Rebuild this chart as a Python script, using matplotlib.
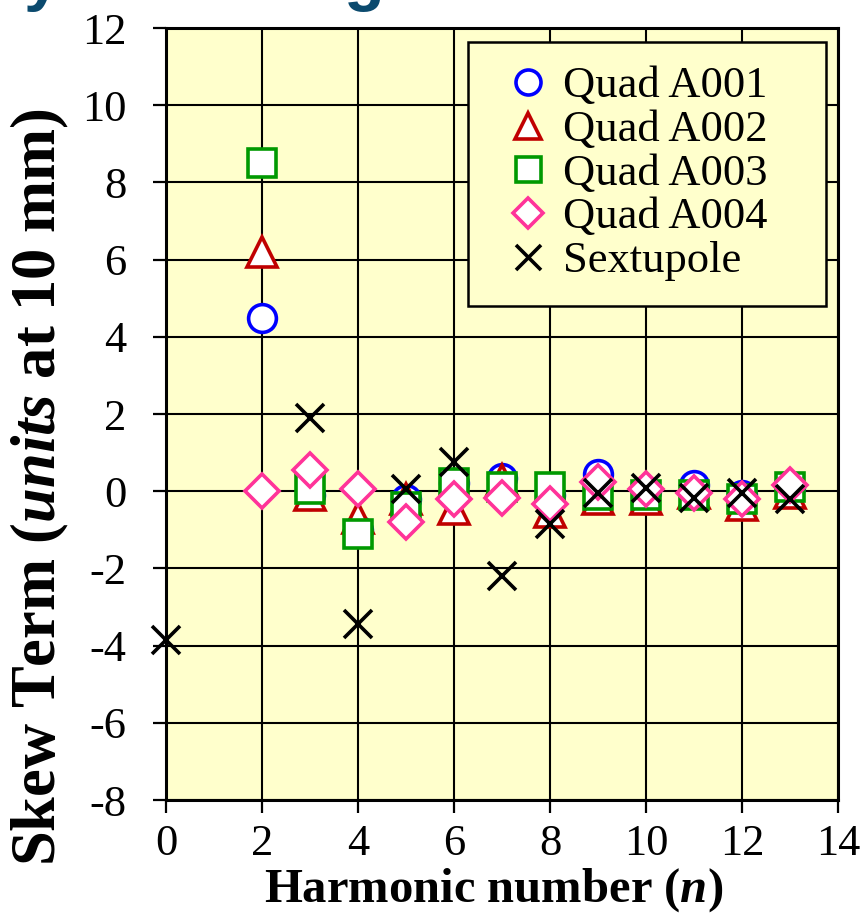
#!/usr/bin/env python3
"""Skew harmonic terms of the quads and the sextupole, units at 10 mm."""

import matplotlib
matplotlib.use("Agg")
import matplotlib.pyplot as plt

plt.rcParams["font.family"] = ["Liberation Serif", "DejaVu Serif"]
plt.rcParams["axes.unicode_minus"] = False
plt.rcParams["mathtext.fontset"] = "custom"
plt.rcParams["mathtext.rm"] = "Liberation Serif:bold"
plt.rcParams["mathtext.bfit"] = "Liberation Serif:bold:italic"
plt.rcParams["mathtext.it"] = "Liberation Serif:bold:italic"

# harmonic numbers
n_quad = [2, 3, 4, 5, 6, 7, 8, 9, 10, 11, 12, 13]
n_sext = [0, 3, 4, 5, 6, 7, 8, 9, 10, 11, 12, 13]

# skew terms (units at 10 mm)
quad_a001 = [4.5, -0.1, -1.0, -0.2, 0.2, 0.35, -0.1, 0.45, 0.0, 0.15, -0.1, 0.1]
quad_a002 = [6.2, -0.1, -0.7, -0.2, -0.45, 0.3, -0.55, -0.2, -0.2, -0.05, -0.35, -0.05]
quad_a003 = [8.5, 0.05, -1.1, -0.4, 0.2, 0.1, 0.1, -0.1, -0.1, -0.1, -0.2, 0.1]
quad_a004 = [0.0, 0.55, 0.05, -0.8, -0.2, -0.18, -0.32, 0.23, 0.05, -0.05, -0.2, 0.15]
sextupole = [-3.85, 1.9, -3.45, 0.05, 0.75, -2.2, -0.85, -0.05, 0.08, -0.18, -0.05, -0.2]

x_ticks = [0, 2, 4, 6, 8, 10, 12, 14]
y_ticks = [-8, -6, -4, -2, 0, 2, 4, 6, 8, 10, 12]

fig = plt.figure(figsize=(8.66, 9.17), dpi=100)
ax = fig.add_axes([166 / 866, 1 - 800 / 917, 672 / 866, 772 / 917])
ax.set_facecolor("#ffffcc")

ax.plot(n_quad, quad_a001, "o", ms=20, mfc="white", mec="#0000ff", mew=2.6,
        label="Quad A001", zorder=3)
ax.plot(n_quad, quad_a002, "^", ms=21, mfc="white", mec="#c00000", mew=2.6,
        label="Quad A002", zorder=4)
ax.plot(n_quad, quad_a003, "s", ms=20, mfc="white", mec="#009900", mew=2.6,
        label="Quad A003", zorder=5)
ax.plot(n_quad, quad_a004, "D", ms=17, mfc="white", mec="#ff3399", mew=2.6,
        label="Quad A004", zorder=6)
ax.plot(n_sext, sextupole, "x", ms=20, mec="black", mew=2.6,
        label="Sextupole", zorder=7, clip_on=False)

ax.set_xlim(0, 14)
ax.set_ylim(-8, 12)
ax.set_xticks(x_ticks)
ax.set_yticks(y_ticks)
ax.grid(True, color="black", linewidth=1.5)
ax.set_axisbelow(True)
for side in ("left", "bottom", "right", "top"):
    ax.spines[side].set_linewidth(2.2)
ax.tick_params(axis="both", direction="out", length=9.5, width=1.6,
               labelsize=32)
ax.tick_params(axis="x", pad=8)
ax.tick_params(axis="y", pad=19)

leg = ax.legend(loc="upper left", bbox_to_anchor=(0.449, 0.645, 0.533, 0.337),
                mode="expand", borderaxespad=0, fontsize=32, frameon=True,
                fancybox=False, facecolor="#ffffcc", edgecolor="black",
                framealpha=1, handlelength=1.6, handletextpad=0.0,
                labelspacing=0.08, borderpad=0.55, markerscale=0.9)
leg.get_frame().set_linewidth(1.8)

fig.text(494 / 866, 1 - 890 / 917, r"Harmonic number ($\mathbfit{n}$)",
         ha="center", va="center", fontsize=35, fontweight="bold")
fig.text(40 / 866, 1 - 487 / 917, r"Skew Term ($\mathbfit{units}$ at 10 mm)",
         ha="center", va="center", rotation=90, fontsize=45, fontweight="bold")

# title cut off at the top edge of the picture
title_kw = dict(ha="center", va="baseline", fontsize=48, fontweight="bold",
                color="#0b4a6e", family=["Liberation Sans", "DejaVu Sans"])
fig.text(42 / 866, 1 + 2 / 917, "y", **title_kw)
fig.text(364 / 866, 1 + 2 / 917, "g", **title_kw)

fig.savefig("out.png", dpi=100)
